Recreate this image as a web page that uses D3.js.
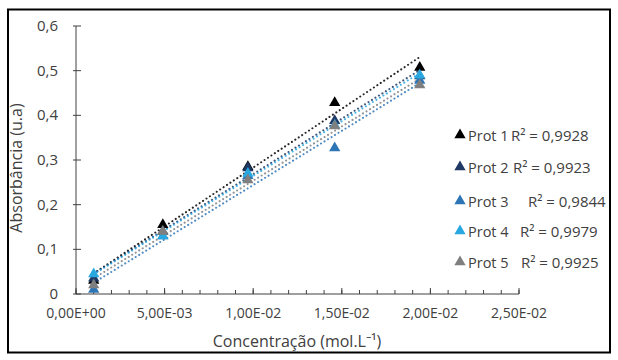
<!DOCTYPE html>
<html><head><meta charset="utf-8">
<script src="https://cdn.jsdelivr.net/npm/d3@7"></script>
<style>body{margin:0;background:#fff}svg{display:block}text{font-family:"Open Sans",sans-serif;fill:#404040}</style>
</head><body>
<svg id="c" width="618" height="360"></svg>
<script>
const concentrations = [0.001, 0.0049, 0.0097, 0.0146, 0.0194];
const seriesNames = ["Prot 1", "Prot 2", "Prot 3", "Prot 4", "Prot 5"];
const prot1 = [0.030, 0.155, 0.285, 0.428, 0.507];
const prot2 = [0.035, 0.140, 0.282, 0.388, 0.488];
const prot3 = [0.010, 0.130, 0.265, 0.327, 0.478];
const prot4 = [0.045, 0.130, 0.270, 0.378, 0.490];
const prot5 = [0.020, 0.140, 0.255, 0.376, 0.468];
const r2Labels = ["R² = 0,9928", "R² = 0,9923", "R² = 0,9844", "R² = 0,9979", "R² = 0,9925"];
const xTicks = [0, 0.005, 0.01, 0.015, 0.02, 0.025];
const xTickLabels = ["0,00E+00", "5,00E-03", "1,00E-02", "1,50E-02", "2,00E-02", "2,50E-02"];
const yTicks = [0, 0.1, 0.2, 0.3, 0.4, 0.5, 0.6];
const yTickLabels = ["0", "0,1", "0,2", "0,3", "0,4", "0,5", "0,6"];

const colors = ["#000000", "#1f3864", "#2e75b6", "#29a8e0", "#7f7f7f"];
const r2X = [511, 513, 528, 520, 521];
const allSeries = [prot1, prot2, prot3, prot4, prot5];

const svg = d3.select("#c");
svg.append("rect").attr("x", 8).attr("y", 9.5).attr("width", 602).attr("height", 343)
  .attr("fill", "none").attr("stroke", "#000").attr("stroke-width", 2);

const x = d3.scaleLinear().domain([0, 0.025]).range([76, 519]);
const y = d3.scaleLinear().domain([0, 0.6]).range([294, 26]);

// axes
const gx = svg.append("g").attr("transform", "translate(0,294)");
gx.append("line").attr("x1", x(0)).attr("x2", x(0.025)).attr("stroke", "#404040");
const minor = d3.range(0, 26).map(i => i * 0.001);
gx.selectAll(".mt").data(minor).join("line").attr("x1", d => x(d)).attr("x2", d => x(d))
  .attr("y1", 0).attr("y2", -4).attr("stroke", "#404040");
gx.selectAll(".Mt").data(xTicks).join("line").attr("x1", d => x(d)).attr("x2", d => x(d))
  .attr("y1", 0).attr("y2", -6).attr("stroke", "#404040");
gx.selectAll(".xl").data(xTicks).join("text").attr("x", d => x(d)).attr("y", 24)
  .attr("text-anchor", "middle").attr("font-size", 14).text((d, i) => xTickLabels[i]);

const gy = svg.append("g");
gy.append("line").attr("x1", 76).attr("x2", 76).attr("y1", y(0)).attr("y2", y(0.6)).attr("stroke", "#404040");
gy.selectAll(".yt").data(yTicks).join("line").attr("x1", 73).attr("x2", 81)
  .attr("y1", d => y(d)).attr("y2", d => y(d)).attr("stroke", "#404040");
gy.selectAll(".yl").data(yTicks).join("text").attr("x", 58).attr("y", d => y(d) + 5)
  .attr("text-anchor", "end").attr("font-size", 15).text((d, i) => yTickLabels[i]);

svg.append("text").attr("x", 297).attr("y", 347).attr("text-anchor", "middle").attr("font-size", 16)
  .text("Concentração (mol.L⁻¹)");
svg.append("text").attr("transform", "translate(22,168) rotate(-90)").attr("text-anchor", "middle")
  .attr("font-size", 16).text("Absorbância (u.a)");

// trendlines
allSeries.forEach((vals, i) => {
  const mx = d3.mean(concentrations), my = d3.mean(vals);
  const b = d3.sum(concentrations, (c, k) => (c - mx) * (vals[k] - my)) / d3.sum(concentrations, c => (c - mx) ** 2);
  const a = my - b * mx;
  const x0 = concentrations[0], x1 = concentrations[concentrations.length - 1];
  svg.append("line").attr("x1", x(x0)).attr("y1", y(a + b * x0)).attr("x2", x(x1)).attr("y2", y(a + b * x1))
    .attr("stroke", colors[i]).attr("stroke-width", 2).attr("stroke-dasharray", "0.1,4")
    .attr("stroke-linecap", "round").attr("opacity", 0.85);
});

// points
const tri = d3.symbol().type(d3.symbolTriangle).size(55);
allSeries.forEach((vals, i) => {
  svg.append("g").selectAll("path").data(vals).join("path")
    .attr("d", tri).attr("fill", colors[i])
    .attr("transform", (d, k) => `translate(${x(concentrations[k])},${y(d)})`);
});

// legend
const legY = [136, 168, 202, 232, 263];
seriesNames.forEach((n, i) => {
  svg.append("path").attr("d", tri).attr("fill", colors[i]).attr("transform", `translate(460,${legY[i] - 1})`);
  svg.append("text").attr("x", 468).attr("y", legY[i] + 5).attr("font-size", 14.5).text(n);
  svg.append("text").attr("x", r2X[i]).attr("y", legY[i] + 5).attr("font-size", 15).text(r2Labels[i]);
});
</script>
</body></html>
